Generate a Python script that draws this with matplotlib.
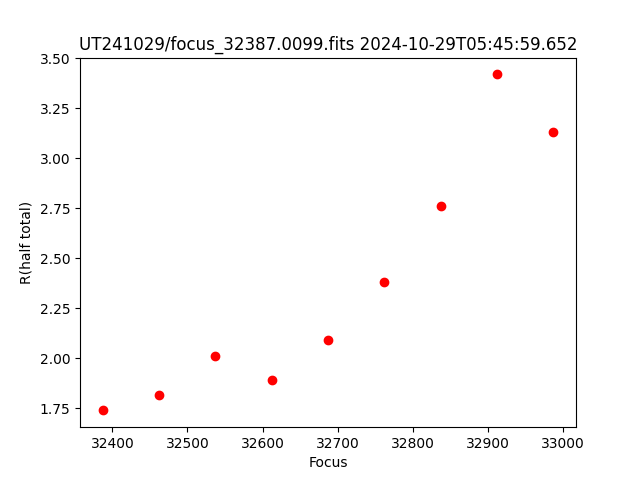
import matplotlib
matplotlib.use("Agg")
import matplotlib.pyplot as plt

# valores
focus = [32387, 32462, 32537, 32612, 32687, 32762, 32837, 32912, 32987]
r_half = [1.74, 1.815, 2.01, 1.89, 2.09, 2.38, 2.76, 3.42, 3.13]

plt.figure(figsize=(6.4, 4.8), dpi=100)
plt.plot(focus, r_half, "ro")
plt.title("UT241029/focus_32387.0099.fits 2024-10-29T05:45:59.652")
plt.xlabel("Focus")
plt.ylabel("R(half total)")
plt.savefig("out.png")
